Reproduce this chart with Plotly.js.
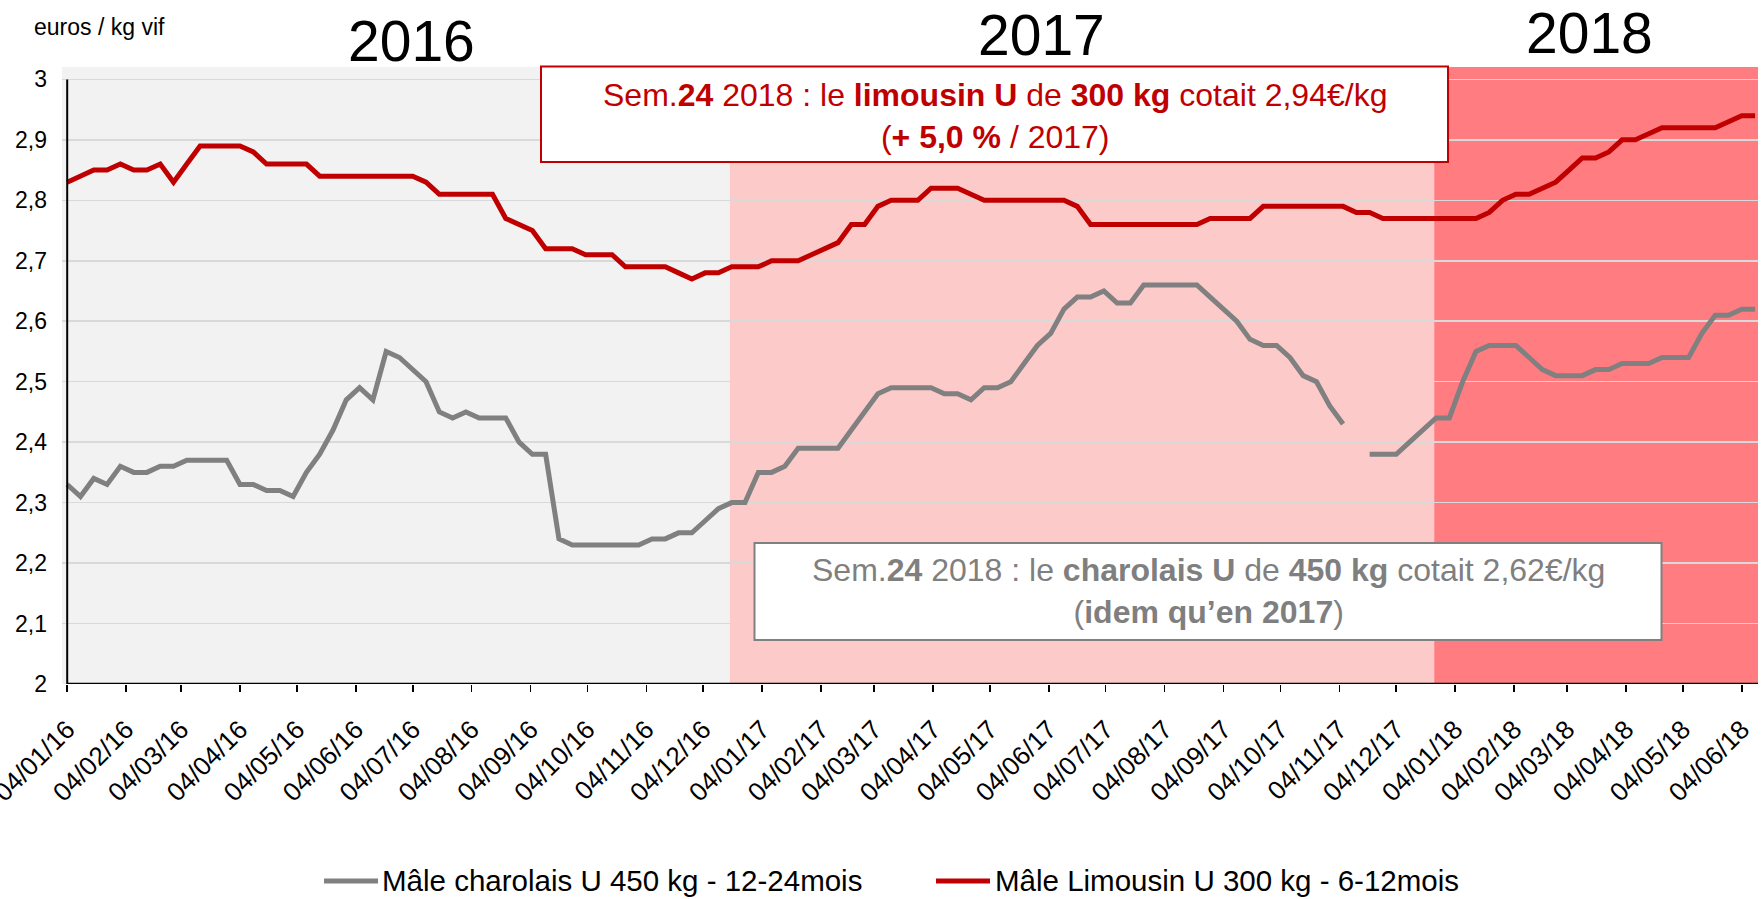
<!DOCTYPE html>
<html><head><meta charset="utf-8">
<script src="https://cdn.plot.ly/plotly-3.0.1.min.js"></script>
<style>html,body{margin:0;padding:0;background:#fff;} #chart{width:1762px;height:899px;}</style>
</head><body><div id="chart"></div>
<script>
// ---- data ----
const firstWeek = '2016-01-04';          // Monday of week 1, 2016
const weekStepMs = 7 * 24 * 3600 * 1000;  // weekly quotations
const seriesNames = ['Mâle charolais U 450 kg - 12-24mois', 'Mâle Limousin U 300 kg - 6-12mois'];
const charolais = [
  2.33, 2.31, 2.34, 2.33, 2.36, 2.35, 2.35, 2.36, 2.36, 2.37,
  2.37, 2.37, 2.37, 2.33, 2.33, 2.32, 2.32, 2.31, 2.35, 2.38,
  2.42, 2.47, 2.49, 2.47, 2.55, 2.54, 2.52, 2.50, 2.45, 2.44,
  2.45, 2.44, 2.44, 2.44, 2.40, 2.38, 2.38, 2.24, 2.23, 2.23,
  2.23, 2.23, 2.23, 2.23, 2.24, 2.24, 2.25, 2.25, 2.27, 2.29,
  2.30, 2.30, 2.35, 2.35, 2.36, 2.39, 2.39, 2.39, 2.39, 2.42,
  2.45, 2.48, 2.49, 2.49, 2.49, 2.49, 2.48, 2.48, 2.47, 2.49,
  2.49, 2.50, 2.53, 2.56, 2.58, 2.62, 2.64, 2.64, 2.65, 2.63,
  2.63, 2.66, 2.66, 2.66, 2.66, 2.66, 2.64, 2.62, 2.60, 2.57,
  2.56, 2.56, 2.54, 2.51, 2.50, 2.46, 2.43, null, 2.38, 2.38,
  2.38, 2.40, 2.42, 2.44, 2.44, 2.50, 2.55, 2.56, 2.56, 2.56,
  2.54, 2.52, 2.51, 2.51, 2.51, 2.52, 2.52, 2.53, 2.53, 2.53,
  2.54, 2.54, 2.54, 2.58, 2.61, 2.61, 2.62, 2.62
];
const limousin = [
  2.83, 2.84, 2.85, 2.85, 2.86, 2.85, 2.85, 2.86, 2.83, 2.86,
  2.89, 2.89, 2.89, 2.89, 2.88, 2.86, 2.86, 2.86, 2.86, 2.84,
  2.84, 2.84, 2.84, 2.84, 2.84, 2.84, 2.84, 2.83, 2.81, 2.81,
  2.81, 2.81, 2.81, 2.77, 2.76, 2.75, 2.72, 2.72, 2.72, 2.71,
  2.71, 2.71, 2.69, 2.69, 2.69, 2.69, 2.68, 2.67, 2.68, 2.68,
  2.69, 2.69, 2.69, 2.70, 2.70, 2.70, 2.71, 2.72, 2.73, 2.76,
  2.76, 2.79, 2.80, 2.80, 2.80, 2.82, 2.82, 2.82, 2.81, 2.80,
  2.80, 2.80, 2.80, 2.80, 2.80, 2.80, 2.79, 2.76, 2.76, 2.76,
  2.76, 2.76, 2.76, 2.76, 2.76, 2.76, 2.77, 2.77, 2.77, 2.77,
  2.79, 2.79, 2.79, 2.79, 2.79, 2.79, 2.79, 2.78, 2.78, 2.77,
  2.77, 2.77, 2.77, 2.77, 2.77, 2.77, 2.77, 2.78, 2.80, 2.81,
  2.81, 2.82, 2.83, 2.85, 2.87, 2.87, 2.88, 2.90, 2.90, 2.91,
  2.92, 2.92, 2.92, 2.92, 2.92, 2.93, 2.94, 2.94
];
const yearLabels = ['2016', '2017', '2018'];
const yearBandStarts = ['2016-01-01', '2016-12-18', '2017-12-24'];
const yearBandEnds = ['2016-12-18', '2017-12-24', '2018-06-13'];
const yAxisLabel = 'euros / kg vif';
const noteLimousin = 'Sem.<b>24</b> 2018 : le <b>limousin U</b> de <b>300 kg</b> cotait 2,94€/kg<br>(<b>+ 5,0 %</b> / 2017)';
const noteCharolais = 'Sem.<b>24</b> 2018 : le <b>charolais U</b> de <b>450 kg</b> cotait 2,62€/kg<br>(<b>idem qu’en 2017</b>)';

// ---- layout helpers (pixel -> paper) ----
const W = 1762, H = 899;
const M = {l: 62, r: 4, t: 67, b: 215, autoexpand: false};
const PW = W - M.l - M.r, PH = H - M.t - M.b;
const px = v => (v - M.l) / PW;
const py = v => (H - M.b - v) / PH;

const FONT = 'Liberation Sans, Arial, sans-serif';
const RED = '#c00000', GREY = '#808080';
const seriesColors = [GREY, RED];
const bandColors = ['#f2f2f2', '#fdcaca', '#ff7c80'];
const X_RANGE = ['2016-01-01 06:15', '2018-06-12 13:12'];
const Y_RANGE = [2, 3.0205];

const traces = [
  {x0: firstWeek, dx: weekStepMs, y: charolais, name: seriesNames[0], type: 'scatter', mode: 'lines',
   line: {color: GREY, width: 5}, connectgaps: false, showlegend: false},
  {x0: firstWeek, dx: weekStepMs, y: limousin, name: seriesNames[1], type: 'scatter', mode: 'lines',
   line: {color: RED, width: 5}, showlegend: false}
];

const shapes = [];
yearLabels.forEach((yl, i) => {
  shapes.push({type: 'rect', xref: 'x', yref: 'y', x0: yearBandStarts[i], x1: yearBandEnds[i], y0: Y_RANGE[0], y1: Y_RANGE[1],
    fillcolor: bandColors[i], line: {width: 0}, layer: 'below'});
});
// axis lines: y from 2 to 3 at the first week, x along y=2 from the first week
shapes.push({type: 'line', xref: 'x', yref: 'y', x0: firstWeek, x1: firstWeek, y0: 2, y1: 3,
  line: {color: '#000', width: 2}, layer: 'above'});
shapes.push({type: 'line', xref: 'x', yref: 'y', x0: firstWeek, x1: X_RANGE[1], y0: 2, y1: 2,
  line: {color: '#000', width: 2.5}, layer: 'above'});
// annotation boxes
shapes.push({type: 'rect', xref: 'paper', yref: 'paper', x0: px(541), x1: px(1448), y0: py(162), y1: py(66.5),
  fillcolor: '#fff', line: {color: RED, width: 2}, layer: 'above'});
shapes.push({type: 'rect', xref: 'paper', yref: 'paper', x0: px(754.5), x1: px(1661.5), y0: py(640), y1: py(543),
  fillcolor: '#fff', line: {color: GREY, width: 2}, layer: 'above'});

const yearPos = [[411, 41], [1041, 35], [1589, 33]];
const annotations = yearLabels.map((t, i) => ({
  text: t, xref: 'paper', yref: 'paper', x: px(yearPos[i][0]), y: py(yearPos[i][1]),
  xanchor: 'center', yanchor: 'middle', showarrow: false, font: {family: FONT, size: 57, color: '#000'}
}));
annotations.push({text: yAxisLabel, xref: 'paper', yref: 'paper', x: px(32), y: py(27),
  xanchor: 'left', yanchor: 'middle', showarrow: false, font: {family: FONT, size: 23, color: '#000'}});
annotations.push({text: noteLimousin, xref: 'paper', yref: 'paper', x: px(994.5), y: py(116),
  xanchor: 'center', yanchor: 'middle', align: 'center', showarrow: false, font: {family: FONT, size: 32, color: RED}});
annotations.push({text: noteCharolais, xref: 'paper', yref: 'paper', x: px(1208), y: py(591),
  xanchor: 'center', yanchor: 'middle', align: 'center', showarrow: false, font: {family: FONT, size: 32, color: '#7f7f7f'}});

// legend (line sample + label), laid out like the original
const legendItems = [{line: [324, 378], text: 380}, {line: [936, 990], text: 993}];
const legendY = 880;
legendItems.forEach((it, i) => {
  shapes.push({type: 'line', xref: 'paper', yref: 'paper', x0: px(it.line[0]), x1: px(it.line[1]),
    y0: py(legendY + 1), y1: py(legendY + 1), line: {color: seriesColors[i], width: 5}, layer: 'above'});
  annotations.push({text: seriesNames[i], xref: 'paper', yref: 'paper', x: px(it.text), y: py(legendY),
    xanchor: 'left', yanchor: 'middle', showarrow: false, font: {family: FONT, size: 29.5, color: '#000'}});
});

const layout = {
  width: W, height: H,
  margin: M,
  paper_bgcolor: '#ffffff',
  plot_bgcolor: '#ffffff',
  separators: ', ',
  font: {family: FONT, color: '#000'},
  showlegend: false,
  xaxis: {
    type: 'date', automargin: false,
    range: X_RANGE,
    tick0: firstWeek, dtick: 'M1', tickformat: '%d/%m/%y', tickangle: -45,
    ticks: 'outside', ticklen: 7, tickwidth: 1.5, tickcolor: '#000',
    ticklabelstandoff: 12, ticklabeloverflow: 'allow',
    showline: false, showgrid: false, zeroline: false,
    tickfont: {family: FONT, size: 26, color: '#000'}
  },
  yaxis: {
    automargin: false,
    range: Y_RANGE, tick0: 2, dtick: 0.1,
    ticks: '', showline: false, showgrid: true, gridcolor: '#d9d9d9', gridwidth: 1.5, zeroline: false,
    ticklabelstandoff: 14,
    tickfont: {family: FONT, size: 23, color: '#000'}
  },
  shapes: shapes,
  annotations: annotations,
  hovermode: false
};

Plotly.newPlot('chart', traces, layout, {displayModeBar: false, staticPlot: true});
</script>
</body></html>
